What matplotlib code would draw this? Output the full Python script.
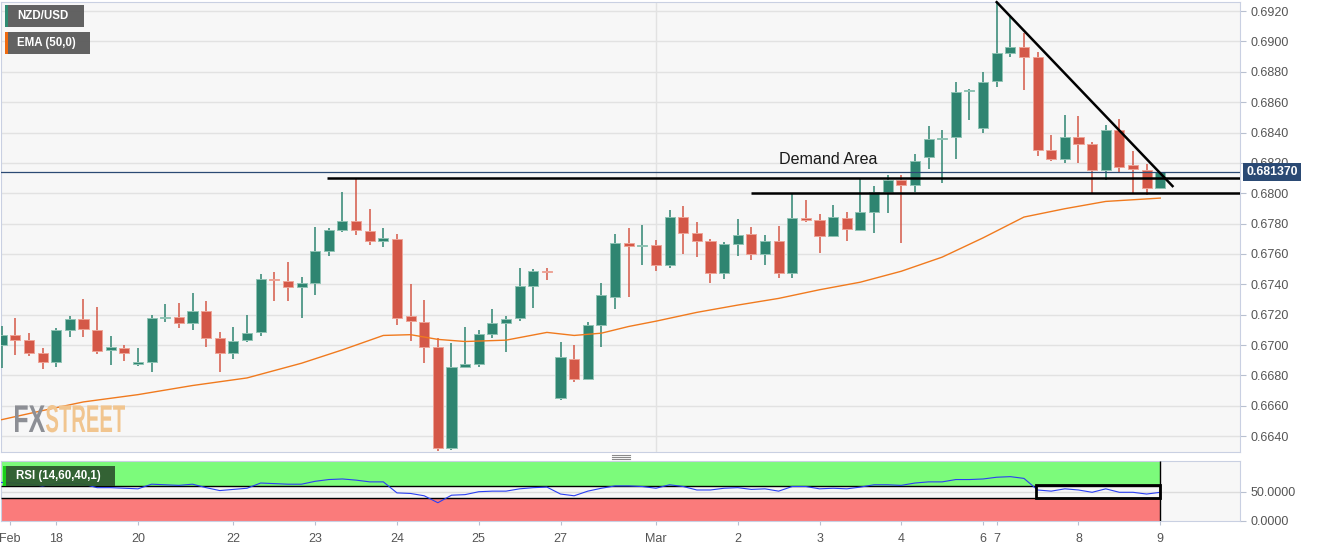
import numpy as np
import matplotlib
matplotlib.use('Agg')
import matplotlib.pyplot as plt
from matplotlib.patches import Rectangle, PathPatch
from matplotlib.lines import Line2D
from matplotlib.textpath import TextPath
from matplotlib.font_manager import FontProperties
from matplotlib.transforms import Affine2D, IdentityTransform, blended_transform_factory

plt.rcParams['font.family'] = ['Liberation Sans', 'DejaVu Sans']

# 4H candles, NZD/USD
opens = [0.67003, 0.67067, 0.67032, 0.66946, 0.66891, 0.67096, 0.67171, 0.67102, 0.66964, 0.66981,
         0.66878, 0.66885, 0.67177, 0.67184, 0.67142, 0.67223, 0.67043, 0.66948, 0.67030, 0.67083,
         0.67437, 0.67421, 0.67384, 0.67406, 0.67622, 0.67760, 0.67817, 0.67754, 0.67683, 0.67696,
         0.67188, 0.67151, 0.66986, 0.66319, 0.66858, 0.66876, 0.67074, 0.67146, 0.67175, 0.67391,
         0.67487, 0.66654, 0.66911, 0.66777, 0.67133, 0.67314, 0.67674, 0.67650, 0.67661, 0.67527,
         0.67844, 0.67736, 0.67683, 0.67472, 0.67667, 0.67733, 0.67601, 0.67682, 0.67473, 0.67838,
         0.67821, 0.67719, 0.67838, 0.67759, 0.67878, 0.68005, 0.68089, 0.68056, 0.68239, 0.68360,
         0.68368, 0.68672, 0.68432, 0.68738, 0.68921, 0.68965, 0.68899, 0.68283, 0.68228, 0.68368,
         0.68322, 0.68151, 0.68415, 0.68184, 0.68155, 0.68036]
highs = [0.67124, 0.67175, 0.67076, 0.66977, 0.67109, 0.67190, 0.67303, 0.67250, 0.67058, 0.67003,
         0.66977, 0.67195, 0.67267, 0.67274, 0.67340, 0.67289, 0.67087, 0.67118, 0.67195, 0.67465,
         0.67483, 0.67545, 0.67446, 0.67778, 0.67773, 0.68009, 0.68099, 0.67894, 0.67769, 0.67729,
         0.67399, 0.67296, 0.67047, 0.67010, 0.67118, 0.67096, 0.67237, 0.67188, 0.67505, 0.67503,
         0.67509, 0.67017, 0.66997, 0.67149, 0.67406, 0.67729, 0.67769, 0.67789, 0.67690, 0.67888,
         0.67916, 0.67811, 0.67701, 0.67680, 0.67832, 0.67777, 0.67726, 0.67783, 0.67992, 0.67953,
         0.67865, 0.67924, 0.67878, 0.68093, 0.68045, 0.68122, 0.68122, 0.68261, 0.68441, 0.68415,
         0.68731, 0.68690, 0.68802, 0.69258, 0.69167, 0.69053, 0.68932, 0.68386, 0.68518, 0.68511,
         0.68338, 0.68452, 0.68492, 0.68278, 0.68190, 0.68140]
lows = [0.66849, 0.66937, 0.66926, 0.66845, 0.66858, 0.67056, 0.67050, 0.66944, 0.66865, 0.66896,
        0.66860, 0.66825, 0.67153, 0.67109, 0.67096, 0.66986, 0.66819, 0.66911, 0.67017, 0.67058,
        0.67289, 0.67289, 0.67179, 0.67327, 0.67584, 0.67745, 0.67723, 0.67657, 0.67644, 0.67133,
        0.67025, 0.66882, 0.66299, 0.66310, 0.66854, 0.66858, 0.67047, 0.66955, 0.67157, 0.67245,
        0.67426, 0.66640, 0.66753, 0.66768, 0.66984, 0.67234, 0.67314, 0.67525, 0.67485, 0.67505,
        0.67597, 0.67582, 0.67406, 0.67437, 0.67585, 0.67557, 0.67528, 0.67442, 0.67442, 0.67810,
        0.67607, 0.67712, 0.67682, 0.67750, 0.67739, 0.67871, 0.67673, 0.68008, 0.68162, 0.68069,
        0.68228, 0.68481, 0.68399, 0.68701, 0.68899, 0.68683, 0.68243, 0.68212, 0.68199, 0.68199,
        0.68001, 0.68085, 0.68137, 0.68001, 0.67990, 0.68027]
closes = [0.67069, 0.67034, 0.66948, 0.66891, 0.67096, 0.67171, 0.67107, 0.66959, 0.66986, 0.66946,
          0.66887, 0.67175, 0.67186, 0.67144, 0.67223, 0.67043, 0.66946, 0.67025, 0.67080, 0.67432,
          0.67426, 0.67384, 0.67406, 0.67619, 0.67760, 0.67817, 0.67756, 0.67688, 0.67705, 0.67179,
          0.67155, 0.66988, 0.66319, 0.66852, 0.66876, 0.67072, 0.67146, 0.67171, 0.67386, 0.67490,
          0.67481, 0.66918, 0.66775, 0.67133, 0.67327, 0.67674, 0.67650, 0.67657, 0.67527, 0.67846,
          0.67736, 0.67685, 0.67476, 0.67665, 0.67728, 0.67601, 0.67682, 0.67473, 0.67838, 0.67823,
          0.67719, 0.67843, 0.67763, 0.67878, 0.68005, 0.68089, 0.68056, 0.68214, 0.68355, 0.68366,
          0.68670, 0.68679, 0.68736, 0.68921, 0.68965, 0.68899, 0.68283, 0.68225, 0.68368, 0.68324,
          0.68151, 0.68415, 0.68173, 0.68162, 0.68036, 0.68137]

ema_idx = [0, 3, 6, 10, 14, 18, 22, 25, 28, 30, 32, 34, 37, 40, 42, 44, 46, 48, 51, 54,
           57, 60, 63, 66, 69, 72, 75, 78, 81, 85]
ema_val = [0.66508, 0.66568, 0.66625, 0.66673, 0.66733, 0.66783, 0.66880, 0.66968, 0.67063, 0.67068,
           0.67037, 0.67023, 0.67032, 0.67083, 0.67063, 0.67078, 0.67122, 0.67157, 0.67215, 0.67263,
           0.67307, 0.67364, 0.67414, 0.67486, 0.67579, 0.67706, 0.67843, 0.67898, 0.67946, 0.67968]

rsi = [66, 65, 63, 60, 64, 65, 63, 57, 57, 56, 55, 63, 62, 61, 63, 57, 52, 54, 56, 65,
       64, 63, 63, 68, 71, 72, 70, 67, 67, 48, 47, 43, 31, 44, 45, 50, 51, 51, 55, 57,
       58, 46, 43, 51, 56, 60, 60, 59, 56, 62, 59, 53, 53, 56, 57, 54, 55, 51, 59, 59,
       55, 56, 55, 58, 62, 62, 61, 65, 67, 67, 71, 71, 72, 75, 76, 73, 53, 51, 55, 53,
       49, 55, 49, 49, 46, 49]

tick_idx = [0.6, 4, 10, 17, 23, 29, 35, 41, 48, 54, 60, 66, 72, 73, 79, 85]
tick_lab = ['Feb', '18', '20', '22', '23', '24', '25', '27', 'Mar', '2', '3', '4', '6', '7', '8', '9']

last_price = 0.68137
support_levels = [0.6810, 0.6800]
support_start = [23.9, 55.0]
trend_x = [73.0, 85.9]
trend_y = [0.69259, 0.68047]
rsi_box_x = [75.9, 85.0]
rsi_box_y = [39.0, 61.0]

W, H = 1317, 548
GREEN = '#2f8571'
RED = '#d45848'
XMAX = 90.85

fig = plt.figure(figsize=(W / 100, H / 100), dpi=100)
ax = fig.add_axes([1 / W, 1 - 452 / H, 1239 / W, 450 / H])
rax = fig.add_axes([1 / W, 1 - 521 / H, 1239 / W, 60 / H], sharex=ax)
for a in (ax, rax):
    a.set_facecolor('#f7f7f7')
    for s in a.spines.values():
        s.set_color('#c9d0e2')
    a.yaxis.tick_right()
    a.tick_params(axis='both', colors='#b8c0d0', labelcolor='#555555', labelsize=9, length=4)

x = np.arange(len(opens))
o = np.array(opens); c = np.array(closes)
up = c >= o
cols = np.where(up, GREEN, RED)
edges = np.where(up, '#8fc3b4', '#eea497')
ax.vlines(x, lows, highs, colors=cols, lw=1.1, zorder=3)
bottom = np.minimum(o, c)
height = np.maximum(np.abs(c - o), 0.00004)
ax.bar(x, height, bottom=bottom, width=0.74, color=cols, edgecolor=edges, lw=0.7, zorder=4)

ax.plot(ema_idx, ema_val, color='#f07a1e', lw=1.0, zorder=5)

ax.set_xlim(-0.05, XMAX)
ax.set_ylim(0.66295, 0.69260)
yt = np.arange(0.6640, 0.69205, 0.002)
ax.set_yticks(yt)
ax.set_yticklabels(['%.4f' % v for v in yt])
ax.grid(axis='y', color='#e2e2e2', lw=1)
ax.axvline(48, color='#e2e2e2', lw=1, zorder=0)
ax.tick_params(axis='x', bottom=False, labelbottom=False)

# current price (tag partly covers the 0.6820 label, as in the source)
ax.axhline(last_price, color='#2b4a74', lw=0.9, zorder=6)
bt = blended_transform_factory(ax.transAxes, ax.transData)
ax.text(1.005, last_price, '%.6f' % last_price, transform=bt, ha='left', va='center',
        color='white', fontsize=8.8, fontweight='bold', zorder=10, clip_on=False,
        bbox=dict(boxstyle='square,pad=0.25', fc='#2b4a74', ec='none'))

# drawings
for lvl, st in zip(support_levels, support_start):
    ax.hlines(lvl, st, XMAX, color='black', lw=1.8, zorder=7)
ax.plot(trend_x, trend_y, color='black', lw=1.8, zorder=7, clip_on=False)
ax.text(57.0, 0.68192, 'Demand Area', fontsize=11.6, color='#1a1a1a', ha='left', va='baseline', zorder=8)

# RSI panel
x0 = -0.05
rax.fill_between([x0, 85], 60, 103, color='#7cfb7b', lw=0, zorder=1)
rax.fill_between([x0, 85], -0.5, 40, color='#fa7b7b', lw=0, zorder=1)
rax.hlines([60, 40], x0, 85, color='black', lw=1.0, zorder=3)
rax.vlines([85], -0.5, 103, color='black', lw=1.0, zorder=3)
rax.axhline(50, color='#dcdcdc', lw=1, zorder=0.5)
rax.plot(x, rsi, color='#2b3ff2', lw=0.8, zorder=4)
rax.add_patch(Rectangle((rsi_box_x[0], rsi_box_y[0]), rsi_box_x[1] - rsi_box_x[0],
                        rsi_box_y[1] - rsi_box_y[0], fill=False, ec='black', lw=2, zorder=5))
rax.set_ylim(-0.5, 103)
rax.set_yticks([0, 50])
rax.set_yticklabels(['0.0000', '50.0000'])
rax.set_xticks(tick_idx)
rax.set_xticklabels(tick_lab)
rax.tick_params(axis='x', length=3, pad=6)


def fig_rect(x, y, w, h, color, alpha=1.0):
    fig.add_artist(Rectangle((x / W, 1 - (y + h) / H), w / W, h / H, transform=fig.transFigure,
                             fc=color, ec='none', alpha=alpha, zorder=20))


# legend tags
fig_rect(5, 5, 79, 22, '#5d5d5d', 0.97)
fig_rect(5, 5, 3, 22, '#2e8b72')
fig.text(17 / W, 1 - 16 / H, 'NZD/USD', color='white', fontsize=8.3, fontweight='bold', va='center', zorder=21)
fig_rect(5, 32, 85, 22, '#5d5d5d', 0.97)
fig_rect(5, 32, 3, 22, '#ef6a10')
fig.text(17 / W, 1 - 43 / H, 'EMA (50,0)', color='white', fontsize=8.3, fontweight='bold', va='center', zorder=21)
fig_rect(3, 466, 112, 20, '#2f5a30', 0.95)
fig_rect(3, 466, 3, 20, '#19d019')
fig.text(16 / W, 1 - 476 / H, 'RSI (14,60,40,1)', color='white', fontsize=8.3, fontweight='bold', va='center', zorder=21)

# panel splitter handle
for yy in (455, 457, 459):
    fig.add_artist(Line2D([612 / W, 630 / W], [1 - yy / H] * 2, color='#8a8a8a', lw=0.8))

# watermark
fp = FontProperties(family='Liberation Sans', weight='bold')
tp_fx = TextPath((0, 0), 'FX', size=100, prop=fp)
tp_st = TextPath((0, 0), 'STREET', size=100, prop=fp)
e_fx = tp_fx.get_extents()
e_st = tp_st.get_extents()
cap = e_st.y1
sy = 27 / cap
for tp, ext, x_left, wpx, col in ((tp_fx, e_fx, 15, 30, '#8d8f95'), (tp_st, e_st, 46, 79, '#f1c58f')):
    sx = wpx / ext.width
    tr = Affine2D().translate(-ext.x0, 0).scale(sx, sy).translate(x_left, H - 432)
    fig.add_artist(PathPatch(tr.transform_path(tp), transform=IdentityTransform(),
                             fc=col, ec='none', zorder=2))

fig.savefig('out.png', dpi=100)
